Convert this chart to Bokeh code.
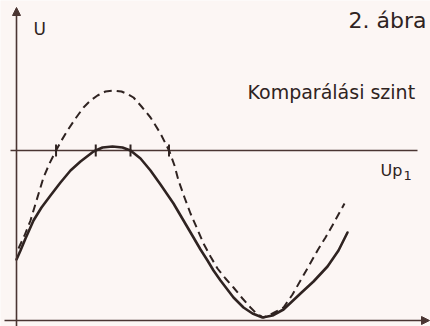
import numpy as np
from bokeh.plotting import figure
from bokeh.models import Range1d, Label, Arrow, NormalHead
from bokeh.embed import file_html
from bokeh.resources import INLINE

# Signal voltage over time (arbitrary units), origin at the axis crossing
t_solid = [0, 4, 9, 17, 25, 34, 44, 54, 64, 77, 86, 96, 106, 114, 124, 134, 144, 157,
           167, 177, 184, 191, 197, 204, 217, 227, 236, 246, 256, 267, 284, 297, 311, 322, 331]
u_solid = [61, 70, 82, 100, 113, 125, 138, 150, 159, 169, 173, 174, 173, 170, 162, 150, 136, 117,
           100, 83, 71, 60, 50, 40, 23, 13, 7, 3, 5, 11, 27, 39, 54, 70, 88]

t_dashed = [2, 8, 14, 20, 27, 33, 39, 45, 51, 59, 67, 74, 81, 89, 97, 105, 112, 117, 125, 134,
            144, 153, 158, 162, 168, 174, 181, 187, 194, 201, 209, 217, 226, 234, 240, 247,
            256, 267, 276, 284, 292, 301, 309, 317, 328]
u_dashed = [72, 85, 100, 120, 143, 157, 169, 180, 190, 202, 213, 220, 225, 229, 230, 229, 226, 223, 214, 203,
            187, 169, 155, 140, 123, 107, 91, 77, 64, 52, 42, 33, 22, 13, 7, 3,
            7, 13, 26, 40, 54, 70, 83, 97, 117]

# Comparator threshold
level = 170

INK = "#2f2321"
AXIS = "#4a3532"
PAPER = "#fcf6f4"
FONT = "DejaVu Sans"


def crossings(t, u, lvl):
    """Times where a sampled curve passes through the level."""
    t = np.asarray(t, float)
    u = np.asarray(u, float) - lvl
    out = []
    for i in range(len(t) - 1):
        if u[i] == 0:
            out.append(t[i])
        elif u[i] * u[i + 1] < 0:
            out.append(t[i] + (t[i + 1] - t[i]) * (-u[i]) / (u[i + 1] - u[i]))
    return out


p = figure(width=430, height=326, output_backend="svg", toolbar_location=None,
           x_range=Range1d(-16, 414), y_range=Range1d(-6, 320),
           min_border=0, min_border_left=0, min_border_right=0,
           min_border_top=0, min_border_bottom=0)
p.axis.visible = False
p.grid.visible = False
p.outline_line_color = None
p.background_fill_color = PAPER
p.border_fill_color = PAPER

# Coordinate axes with arrow heads
p.add_layout(Arrow(end=NormalHead(size=8, fill_color=AXIS, line_color=AXIS),
                   x_start=-12, y_start=0, x_end=413, y_end=0,
                   line_color=AXIS, line_width=1.6))
p.add_layout(Arrow(end=NormalHead(size=8, fill_color=AXIS, line_color=AXIS),
                   x_start=0, y_start=-6, x_end=0, y_end=313,
                   line_color=AXIS, line_width=1.6))

# Threshold line
p.line([-6, 401], [level, level], line_color=AXIS, line_width=1.6)

# Signals
p.line(t_dashed, u_dashed, line_color=INK, line_width=2, line_dash="8 5",
       line_join="round", line_cap="butt")
p.line(t_solid, u_solid, line_color=INK, line_width=2.6,
       line_join="round", line_cap="round")

# Marks where each signal crosses the threshold
xs = crossings(t_solid, u_solid, level) + crossings(t_dashed, u_dashed, level)
p.segment(x0=xs, y0=[level - 6] * len(xs), x1=xs, y1=[level + 6] * len(xs),
          line_color=INK, line_width=2)

labels = [
    ("U", 17, 292, "17px"),
    ("2. ábra", 332, 300, "22px"),
    ("Komparálási szint", 231, 229, "19px"),
    ("Up", 364, 150, "16px"),
    ("1", 387, 145, "13px"),
]
for txt, x, y, size in labels:
    p.add_layout(Label(x=x, y=y, text=txt, text_font=FONT, text_font_size=size,
                       text_color=INK, text_baseline="alphabetic", text_align="left"))

open("out.html", "w").write(file_html(p, INLINE))
